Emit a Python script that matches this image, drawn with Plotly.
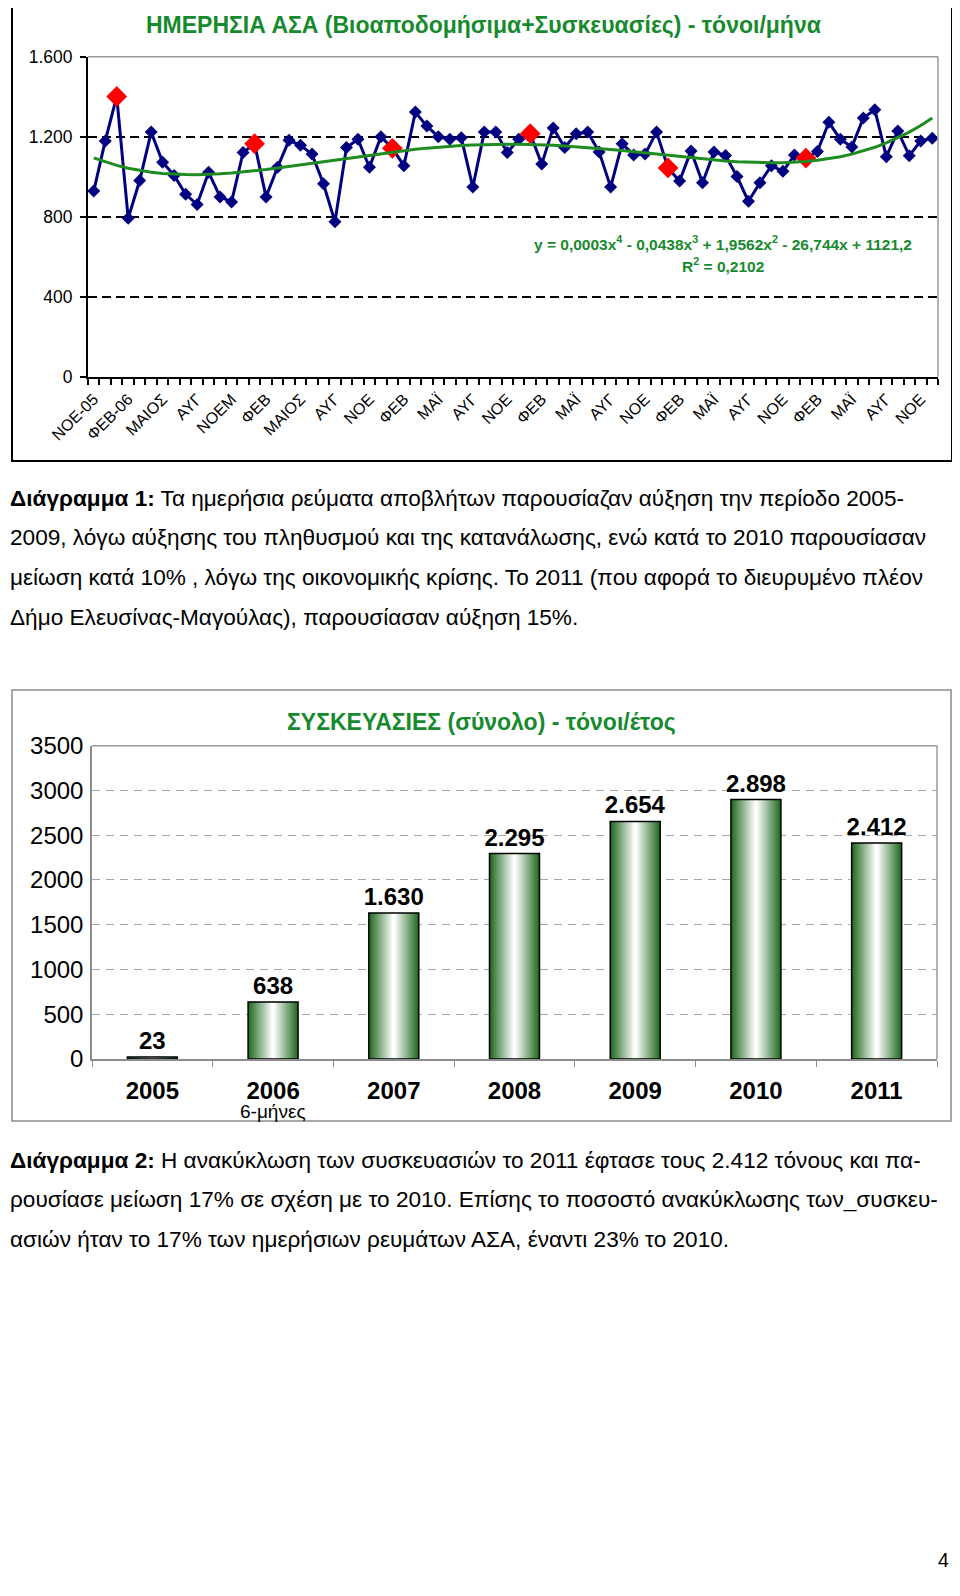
import numpy as np
import plotly.graph_objects as go

# The page body has an 8px default margin; lay the figure out in page pixels.
PAGE_W, PAGE_H = 960, 1596
OFF = 8
W, H = PAGE_W - OFF, PAGE_H - OFF
FONT = "Liberation Sans, Arial, sans-serif"
GREEN_TXT = "#168a2c"

# ---------------- data: top chart (monthly tonnes, NOV-05 .. DEC-11) -------------
monthly_tonnes = [928, 1179, 1401, 792, 981, 1223, 1072, 1006, 912, 861, 1022, 899,
                  874, 1121, 1165, 899, 1047, 1182, 1157, 1113, 965, 775, 1146, 1187,
                  1047, 1200, 1142, 1055, 1323, 1253, 1200, 1187, 1195, 948, 1223, 1223,
                  1121, 1187, 1215, 1063, 1244, 1146, 1215, 1223, 1124, 948, 1165, 1109,
                  1113, 1223, 1044, 978, 1129, 970, 1124, 1106, 1001, 877, 970, 1055,
                  1027, 1108, 1093, 1126, 1272, 1187, 1149, 1294, 1335, 1100, 1228, 1105,
                  1179, 1192]
january_idx = [2, 14, 26, 38, 50, 62]   # highlighted (red) months
month_ticklabels = ["ΝΟΕ-05", "ΦΕΒ-06", "ΜΑΙΟΣ", "ΑΥΓ", "ΝΟΕΜ", "ΦΕΒ", "ΜΑΙΟΣ", "ΑΥΓ",
                    "ΝΟΕ", "ΦΕΒ", "ΜΑΪ", "ΑΥΓ", "ΝΟΕ", "ΦΕΒ", "ΜΑΪ", "ΑΥΓ", "ΝΟΕ",
                    "ΦΕΒ", "ΜΑΪ", "ΑΥΓ", "ΝΟΕ", "ΦΕΒ", "ΜΑΪ", "ΑΥΓ", "ΝΟΕ"]
top_yticks = [0, 400, 800, 1200, 1600]
top_yticklabels = ["0", "400", "800", "1.200", "1.600"]

# ---------------- data: bottom chart (packaging, tonnes/year) --------------------
years = ["2005", "2006", "2007", "2008", "2009", "2010", "2011"]
packaging_tonnes = [23, 638, 1630, 2295, 2654, 2898, 2412]
packaging_labels = ["23", "638", "1.630", "2.295", "2.654", "2.898", "2.412"]


def px(x):
    return (x - OFF) / W


def py(y):
    return 1 - (y - OFF) / H


fig = go.Figure()

# ---- top chart traces ----
n = len(monthly_tonnes)
xi = list(range(n))
fig.add_trace(go.Scatter(
    x=xi, y=monthly_tonnes, mode="lines+markers",
    line=dict(color="#000080", width=3),
    marker=dict(symbol="diamond", size=10, color="#000080"),
    xaxis="x", yaxis="y", showlegend=False, hoverinfo="skip"))
fig.add_trace(go.Scatter(
    x=january_idx, y=[monthly_tonnes[i] for i in january_idx], mode="markers",
    marker=dict(symbol="diamond", size=16, color="#ff0000"),
    xaxis="x", yaxis="y", showlegend=False, hoverinfo="skip"))
# 4th-order polynomial trendline fitted to the data (x = 1..n as in Excel)
xs = np.arange(1, n + 1)
coef = np.polyfit(xs, np.array(monthly_tonnes, dtype=float), 4)
trend = np.polyval(coef, xs)
fig.add_trace(go.Scatter(
    x=xi, y=trend, mode="lines", line=dict(color="#1f8c1f", width=3),
    xaxis="x", yaxis="y", showlegend=False, hoverinfo="skip"))

# ---- bottom chart traces: layered bars to imitate horizontal gradient ----
BW = 0.414
NL = 16
g0 = np.array([36, 108, 36])
for k in range(NL):
    t = k / (NL - 1)
    c = g0 + (np.array([255, 255, 255]) - g0) * t
    fig.add_trace(go.Bar(
        x=years, y=packaging_tonnes, width=BW * (1 - k / NL),
        marker=dict(color="rgb(%d,%d,%d)" % tuple(c.astype(int)), line=dict(width=0)),
        xaxis="x2", yaxis="y2", showlegend=False, hoverinfo="skip"))
fig.add_trace(go.Bar(
    x=years, y=packaging_tonnes, width=BW,
    marker=dict(color="rgba(0,0,0,0)", line=dict(color="black", width=1.5)),
    text=packaging_labels, textposition="outside", constraintext="none",
    textfont=dict(family=FONT, size=24, color="black", weight="bold"),
    cliponaxis=False,
    xaxis="x2", yaxis="y2", showlegend=False, hoverinfo="skip"))

# ---- layout ----
fig.update_layout(
    width=W, height=H, margin=dict(l=0, r=0, t=0, b=0, autoexpand=False),
    paper_bgcolor="white", plot_bgcolor="white",
    font=dict(family=FONT, color="black"),
    barmode="overlay",
    xaxis=dict(domain=[px(88), px(938)], range=[-0.5, n - 0.5], anchor="y",
               showgrid=False, zeroline=False,
               showline=True, linecolor="black", linewidth=2,
               tickmode="array", tickvals=xi[::3], ticktext=month_ticklabels,
               ticks="", tickangle=-45, tickfont=dict(size=16, family=FONT),
               ticklabelstandoff=5,
               minor=dict(tickmode="linear", tick0=-0.5, dtick=1, ticks="outside",
                          ticklen=6, tickwidth=1.5, tickcolor="black", showgrid=False)),
    yaxis=dict(domain=[py(376.7), py(56.7)], range=[0, 1600], anchor="x",
               tickmode="array", tickvals=top_yticks, ticktext=top_yticklabels,
               showgrid=True, gridcolor="black", gridwidth=1.5, griddash="9px,5px",
               zeroline=False, showline=True, linecolor="black", linewidth=2,
               ticks="outside", ticklen=6, tickwidth=1.5, tickcolor="black",
               tickfont=dict(size=17.5, family=FONT), ticklabelstandoff=4),
    xaxis2=dict(domain=[px(92), px(937)], anchor="y2", type="category",
                range=[-0.5, len(years) - 0.5],
                showgrid=False, zeroline=False,
                showline=True, linecolor="#8c8c8c", linewidth=1.5,
                tickson="boundaries", ticks="outside", ticklen=6, tickcolor="#8c8c8c",
                tickfont=dict(size=24, family=FONT, weight="bold"),
                tickangle=0, ticklabelstandoff=9),
    yaxis2=dict(domain=[py(1059), py(745.7)], range=[0, 3500], anchor="x2",
                tickmode="linear", tick0=0, dtick=500,
                showgrid=True, gridcolor="#a8a8a8", gridwidth=1, griddash="8px,6px",
                zeroline=False, showline=True, linecolor="#8c8c8c", linewidth=1.5,
                ticks="", ticklen=0, tickfont=dict(size=24, family=FONT),
                ticklabelstandoff=2),
)

shapes = [
    # top chart outer box
    dict(type="rect", xref="paper", yref="paper", x0=px(12), x1=px(952), y0=py(461), y1=py(3),
         line=dict(color="black", width=2)),
    # top chart plot-area top & right border (gray)
    dict(type="line", xref="paper", yref="paper", x0=px(88), x1=px(938), y0=py(56.7), y1=py(56.7),
         line=dict(color="#9a9a9a", width=1.5)),
    dict(type="line", xref="paper", yref="paper", x0=px(938), x1=px(938), y0=py(376.7), y1=py(56.7),
         line=dict(color="#9a9a9a", width=1.5)),
    # bottom chart outer box
    dict(type="rect", xref="paper", yref="paper", x0=px(12), x1=px(951), y0=py(1121), y1=py(690),
         line=dict(color="#8c8c8c", width=1.5)),
    # bottom chart plot-area border top & right
    dict(type="line", xref="paper", yref="paper", x0=px(92), x1=px(937), y0=py(745.7), y1=py(745.7),
         line=dict(color="#9a9a9a", width=1.5)),
    dict(type="line", xref="paper", yref="paper", x0=px(937), x1=px(937), y0=py(1059), y1=py(745.7),
         line=dict(color="#9a9a9a", width=1.5)),
]
fig.update_layout(shapes=shapes)

ann = []


def add_text(x, y, text, size, color="black", xanchor="left", bold=False):
    ann.append(dict(xref="paper", yref="paper", x=px(x), y=py(y), text=text,
                    showarrow=False, xanchor=xanchor, yanchor="middle",
                    font=dict(family=FONT, size=size, color=color,
                              weight="bold" if bold else "normal")))


add_text(483, 25, "ΗΜΕΡΗΣΙΑ ΑΣΑ (Βιοαποδομήσιμα+Συσκευασίες) - τόνοι/μήνα", 23,
         GREEN_TXT, "center", True)
add_text(723, 243, "y = 0,0003x<sup>4</sup> - 0,0438x<sup>3</sup> + 1,9562x<sup>2</sup> - 26,744x + 1121,2",
         15.5, GREEN_TXT, "center", True)
add_text(723, 265, "R<sup>2</sup> = 0,2102", 15.5, GREEN_TXT, "center", True)

cap1 = ["<b>Διάγραμμα 1:</b> Τα ημερήσια ρεύματα αποβλήτων παρουσίαζαν αύξηση την περίοδο 2005-",
        "2009, λόγω αύξησης του πληθυσμού και της κατανάλωσης, ενώ κατά το 2010 παρουσίασαν",
        "μείωση κατά 10% , λόγω της οικονομικής κρίσης. Το 2011 (που αφορά το διευρυμένο πλέον",
        "Δήμο Ελευσίνας-Μαγούλας), παρουσίασαν αύξηση 15%."]
for i, line in enumerate(cap1):
    add_text(8, 498 + 39.7 * i, line, 22.6)

add_text(481, 722, "ΣΥΣΚΕΥΑΣΙΕΣ (σύνολο) - τόνοι/έτος", 23, GREEN_TXT, "center", True)
ann.append(dict(xref="x2", yref="paper", x=years.index("2006"), y=py(1111), text="6-μήνες",
                showarrow=False, xanchor="center", yanchor="middle",
                font=dict(family=FONT, size=19, color="black")))

cap2 = ["<b>Διάγραμμα 2:</b> Η ανακύκλωση των συσκευασιών το 2011 έφτασε τους 2.412 τόνους και πα-",
        "ρουσίασε μείωση 17% σε σχέση με το 2010. Επίσης το ποσοστό ανακύκλωσης των_συσκευ-",
        "ασιών ήταν το 17% των ημερήσιων ρευμάτων ΑΣΑ, έναντι 23% το 2010."]
for i, line in enumerate(cap2):
    add_text(8, 1160 + 39.7 * i, line, 22.6)

add_text(951, 1560, "4", 19.5, xanchor="right")
fig.update_layout(annotations=ann)

fig.write_html("out.html")
